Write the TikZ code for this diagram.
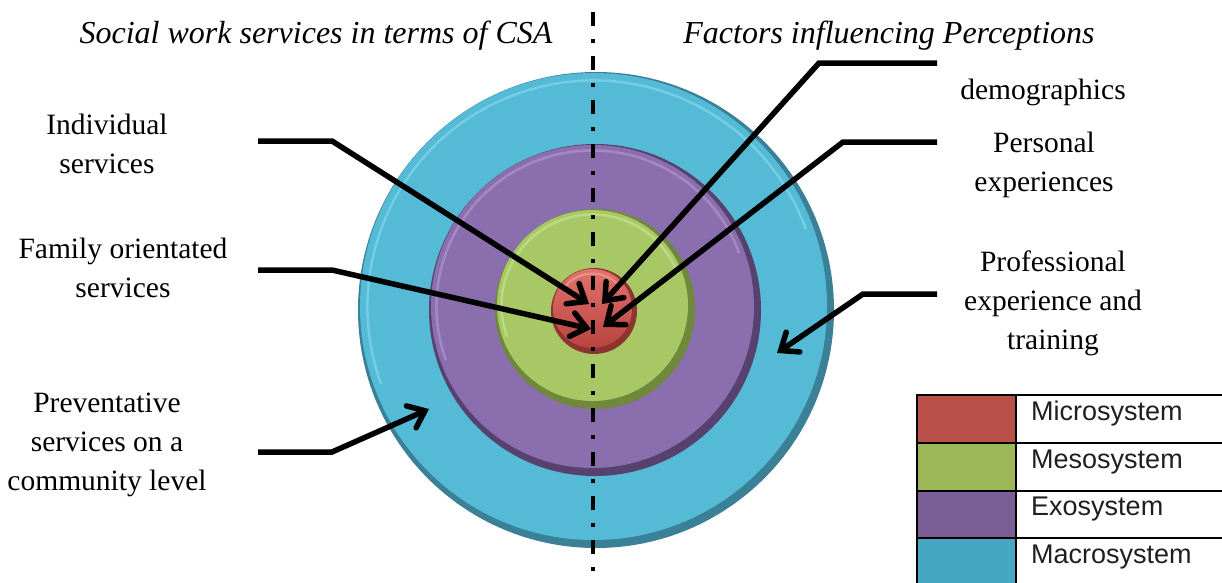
\documentclass[tikz,border=0pt]{standalone}
\usepackage{fontspec}
\setmainfont{Liberation Serif}
\newfontfamily\legendfont{Liberation Sans}
\usetikzlibrary{arrows.meta,calc}
\definecolor{cyanrim}{HTML}{3A8197}
\definecolor{cyanhi}{HTML}{8ADBF0}
\definecolor{cyanface}{HTML}{55BAD5}
\definecolor{purprim}{HTML}{56416F}
\definecolor{purphi}{HTML}{B49BD3}
\definecolor{purpface}{HTML}{8B6EAE}
\definecolor{greenrim}{HTML}{6F883A}
\definecolor{greenhi}{HTML}{CDE69A}
\definecolor{greenface}{HTML}{A8C765}
\definecolor{redrim}{HTML}{8E3430}
\definecolor{redtop}{HTML}{E2726C}
\definecolor{redbot}{HTML}{B9443F}
\definecolor{legred}{HTML}{B84F49}
\definecolor{leggreen}{HTML}{9BB757}
\definecolor{legpurp}{HTML}{7C5E97}
\definecolor{legcyan}{HTML}{47A6C2}
\newcommand\myring[5]{%
  \fill[#4rim] (#1,#2) circle[radius=#3pt];
  \pgfmathsetmacro\myrf{#3-4.5}%
  \pgfmathsetmacro\myrh{#3-#5}%
  \fill[#4face] (#1-2.5,#2-3.5) circle[radius=\myrf pt];
  \draw[#4hi,line width=2.5pt,opacity=0.6] (#1-2.5,#2-3.5) ++(20:\myrh pt) arc[start angle=20,end angle=200,radius=\myrh pt];
}
\begin{document}
\begin{tikzpicture}[x=1pt,y=-1pt,
  lbl/.style={inner sep=0pt,align=center,font=\fontsize{29.5}{39}\selectfont},
  head/.style={inner sep=0pt,anchor=base,font=\fontsize{32}{38}\selectfont\itshape},
  ptr/.style={line width=5.5pt,line join=miter,-{Straight Barb[length=15pt,width=24pt,line cap=round]}},
  axis/.style={line width=3.5pt,dash pattern=on 14pt off 13pt on 4pt off 13pt},
  legtxt/.style={inner sep=0pt,anchor=base west,text=black!88,font=\legendfont\fontsize{27}{30}\selectfont},
  grid/.style={line width=2pt}]
\useasboundingbox (0,0) rectangle (1222,582);
\clip (0,0) rectangle (1222,582);

% rings
\myring{596}{310}{238}{cyan}{12}
\myring{595}{310}{166}{purp}{10}
\myring{595}{309}{100}{green}{9}
\coordinate (C4) at (594,311);
\fill[redrim] (C4) circle[radius=43pt];
\shade[top color=redtop,bottom color=redbot] ($(C4)+(-1.5,-2.5)$) circle[radius=39.5pt];
\draw[redtop!60!white,line width=2pt,opacity=0.6] ($(C4)+(-1.5,-2.5)$) ++(35:35pt) arc[start angle=35,end angle=145,radius=35pt];

% axis
\coordinate (axtop) at (593,12);
\coordinate (axbot) at (593,578);
\draw[axis] (axtop) -- (axbot);

% headings
\node[head] (hl) at (316,43) {Social work services in terms of CSA};
\node[head] (hr) at (889,43) {Factors influencing Perceptions};

% labels
\node[lbl] (ind) at (107,144) {Individual\\services};
\node[lbl] (fam) at (123,268) {Family orientated\\services};
\node[lbl] (prev) at (107,445) {Preventative\\services on a\\community level};
\node[lbl] (demo) at (1043,92) {demographics};
\node[lbl] (pers) at (1044,165) {Personal\\experiences};
\node[lbl] (prof) at (1053,303) {Professional\\experience and\\training};

% arrow coordinates
\coordinate (a1s) at (258,141); \coordinate (a1b) at (332,141); \coordinate (a1t) at (589,304);
\coordinate (a2s) at (258,270); \coordinate (a2b) at (332,270); \coordinate (a2t) at (591,329);
\coordinate (a3s) at (258,452); \coordinate (a3b) at (332,452); \coordinate (a3t) at (429,409);
\coordinate (a4s) at (937,63);  \coordinate (a4b) at (819,63);  \coordinate (a4t) at (602,304);
\coordinate (a5s) at (937,142); \coordinate (a5b) at (843,142); \coordinate (a5t) at (603,327);
\coordinate (a6s) at (937,294); \coordinate (a6b) at (863,294); \coordinate (a6t) at (777,353);
\draw[ptr] (a1s) -- (a1b) -- (a1t);
\draw[ptr] (a2s) -- (a2b) -- (a2t);
\draw[ptr] (a3s) -- (a3b) -- (a3t);
\draw[ptr] (a4s) -- (a4b) -- (a4t);
\draw[ptr] (a5s) -- (a5b) -- (a5t);
\draw[ptr] (a6s) -- (a6b) -- (a6t);

% legend
\fill[legred] (917,395) rectangle (1016,443);
\fill[leggreen] (917,443) rectangle (1016,491);
\fill[legpurp] (917,491) rectangle (1016,538);
\fill[legcyan] (917,538) rectangle (1016,590);
\draw[grid] (1230,395) -- (917,395) -- (917,590);
\draw[grid] (1016,395) -- (1016,590);
\draw[grid] (917,443) -- (1230,443);
\draw[grid] (917,491) -- (1230,491);
\draw[grid] (917,538) -- (1230,538);
\node[legtxt] (l1) at (1031,420) {Microsystem};
\node[legtxt] (l2) at (1031,468) {Mesosystem};
\node[legtxt] (l3) at (1031,515) {Exosystem};
\node[legtxt] (l4) at (1031,563) {Macrosystem};
\end{tikzpicture}
\end{document}
